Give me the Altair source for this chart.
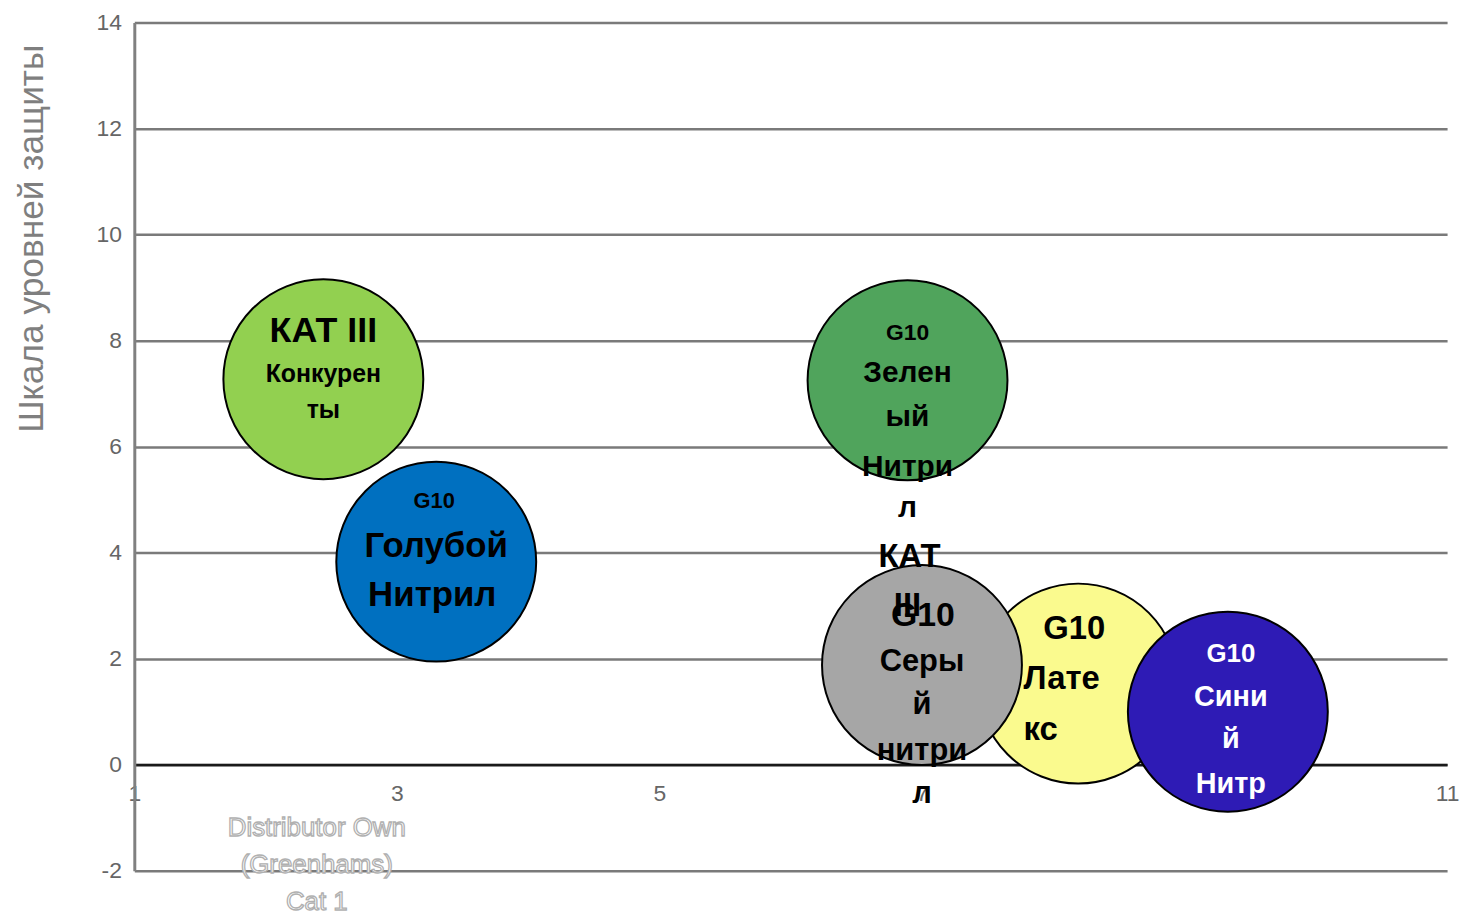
import altair as alt
import pandas as pd

# ---- data ----
bubble_names = ["КАТ III Конкуренты", "G10 Голубой Нитрил", "G10 Зеленый Нитрил КАТ III",
                "G10 Латекс", "G10 Серый нитрил", "G10 Синий Нитр"]
x_vals = [2.44, 3.30, 6.89, 8.19, 7.00, 9.33]
y_vals = [7.27, 3.83, 7.25, 1.53, 1.88, 1.00]
label_lines = [
    ["КАТ III", "Конкурен", "ты"],
    ["G10", "Голубой", "Нитрил"],
    ["G10", "Зелен", "ый", "Нитри", "л", "КАТ", "III"],
    ["G10", "Лате", "кс"],
    ["G10", "Серы", "й", "нитри", "л"],
    ["G10", "Сини", "й", "Нитр"],
]
x_ticks = [1, 3, 5, 7, 9, 11]
y_ticks = [-2, 0, 2, 4, 6, 8, 10, 12, 14]
y_title = "Шкала уровней защиты"
annot_lines = ["Distributor Own", "(Greenhams)", "Cat 1"]
annot_x = [2.39]
annot_y = [-1.345]

# ---- styles ----
fills = ["#92D050", "#0070C0", "#50A45C", "#FAFA8E", "#A6A6A6", "#2E1BB5"]
text_colors = ["black", "black", "black", "black", "black", "white"]
# (fontSize, dy, dx, align) per line
line_styles = [
    [(36, -37, 0, "center"), (25, 3, 0, "center"), (25, 39, 0, "center")],
    [(22, -54, -2, "center"), (35, -5, 0, "center"), (35, 45, -4, "center")],
    [(23, -41, 0, "center"), (30, 2, 0, "center"), (30, 46, 0, "center"), (30, 96, 0, "center"),
     (30, 137, 0, "center"), (33, 188, 2, "center"), (33, 237, 0, "center")],
    [(33, -45, -4, "center"), (33, 5, -55, "left"), (33, 57, -55, "left")],
    [(34, -39, 1, "center"), (31, 6, 0, "center"), (31, 49, 0, "center"), (31, 96, 0, "center"),
     (31, 139, 0, "center")],
    [(26, -50, 3, "center"), (29, -6, 3, "center"), (29, 37, 3, "center"), (29, 82, 3, "center")],
]

FONT = "Liberation Sans, Arial, sans-serif"

bubbles = pd.DataFrame({"name": bubble_names, "x": x_vals, "y": y_vals, "fill": fills,
                        "order": list(range(len(bubble_names)))})

rows = []
for i, lines in enumerate(label_lines):
    for j, t in enumerate(lines):
        rows.append({"b": i, "k": j, "t": t, "x": x_vals[i], "y": y_vals[i]})
labels = pd.DataFrame(rows)

X = alt.X("x:Q",
          scale=alt.Scale(domain=[1, 11], nice=False, zero=False),
          axis=alt.Axis(values=x_ticks, labelExpr="'' + datum.value", orient="bottom",
                        offset=-106.6,
                        domainColor="#1a1a1a", domainWidth=2.5, ticks=False, grid=False,
                        labelFont=FONT, labelFontSize=23, labelColor="#666666",
                        labelPadding=18, labelFlush=False, labelOverlap=False, title=None))
Y = alt.Y("y:Q",
          scale=alt.Scale(domain=[-2, 14], nice=False, zero=False),
          axis=alt.Axis(values=y_ticks, labelExpr="'' + datum.value", ticks=False, grid=True,
                        gridColor="#7a7a7a", gridWidth=2.5,
                        domainColor="#808080", domainWidth=3,
                        labelFont=FONT, labelFontSize=23, labelColor="#666666",
                        labelPadding=13, labelOverlap=False,
                        title=y_title, titleFont=FONT, titleFontSize=35.5,
                        titleFontWeight="normal", titleColor="#7f7f7f",
                        titleAngle=270, titleAlign="center", titleBaseline="alphabetic",
                        titleX=-92, titleY=217))

circles = alt.Chart(bubbles).mark_point(
    shape="circle", filled=True, size=40401, stroke="black", strokeWidth=2, opacity=1
).encode(
    x=X, y=Y,
    fill=alt.Fill("fill:N", scale=None),
    order=alt.Order("order:Q"),
)

layers = [circles]
for i, styles in enumerate(line_styles):
    for j, (fs, dy, dx, al) in enumerate(styles):
        layers.append(
            alt.Chart(labels).transform_filter(
                (alt.datum.b == i) & (alt.datum.k == j)
            ).mark_text(
                font=FONT, fontWeight="bold", fontSize=fs, dy=dy, dx=dx,
                align=al, baseline="alphabetic", color=text_colors[i]
            ).encode(x=X, y=Y, text="t:N")
        )

annot = pd.DataFrame({"x": annot_x, "y": annot_y, "t": ["\n".join(annot_lines)]})
layers.append(
    alt.Chart(annot).mark_text(
        font=FONT, fontSize=26, lineBreak="\n", lineHeight=37,
        align="center", baseline="alphabetic", fill="white", stroke="#b0b0b0",
        strokeWidth=1.3
    ).encode(x=X, y=Y, text="t:N")
)

chart = alt.layer(*layers).properties(
    width=1320, height=853,
    autosize=alt.AutoSizeParams(type="none"),
    padding={"left": 127, "top": 12, "right": 15, "bottom": 40},
    background="white",
).configure_view(stroke=None)

chart.save("out.html", embed_options={"renderer": "svg", "actions": False})
